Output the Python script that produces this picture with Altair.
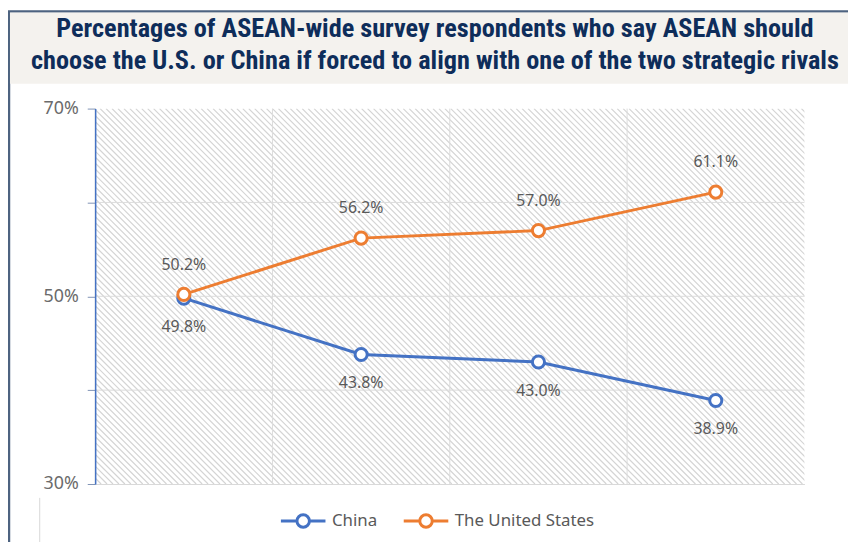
import altair as alt
import pandas as pd

# ---- data ----
years = ["2020", "2021", "2022", "2023"]
series_names = ["China", "The United States"]
china = [49.8, 43.8, 43.0, 38.9]
us = [50.2, 56.2, 57.0, 61.1]
y_ticks = [30, 40, 50, 60, 70]
grid_y = [40, 50, 60]
title_lines = [
    "Percentages of ASEAN-wide survey respondents who say ASEAN should",
    "choose the U.S. or China if forced to align with one of the two strategic rivals",
]

rows = []
for name, vals in zip(series_names, [china, us]):
    for yr, v in zip(years, vals):
        rows.append({"year": yr, "series": name, "value": v, "label": f"{v:.1f}%"})
df = pd.DataFrame(rows)

W, H = 716, 379
BLUE = "#4472c4"
ORANGE = "#ed7d31"
TXT = "#595959"
HATCH_STEP = 6  # horizontal spacing of the diagonal background hatch (style)

x_scale = alt.Scale(type="band", domain=years, paddingInner=0, paddingOuter=0)
y_scale = alt.Scale(domain=[30, 70], nice=False, zero=False)
color_scale = alt.Scale(domain=series_names, range=[BLUE, ORANGE])

legend_symbol = (
    "M-1,0H-0.28M0.28,0H1"
    "M-0.28,0A0.28,0.28,0,1,0,0.28,0A0.28,0.28,0,1,0,-0.28,0Z"
)
legend = alt.Legend(
    title=None, orient="none", legendX=186, legendY=392, direction="horizontal",
    columns=2, symbolType=legend_symbol, symbolSize=2025, symbolStrokeWidth=3,
    labelFontSize=17, labelColor=TXT, labelFont="Noto Sans", columnPadding=20,
    labelOffset=5,
)

x_axis = alt.Axis(labels=False, ticks=False, domainColor="#d9d9d9",
                  domainWidth=1, grid=False, title=None, zindex=1)
y_axis = alt.Axis(values=y_ticks,
                  labelExpr="datum.value % 20 == 10 ? datum.value + '%' : ''",
                  domainColor=BLUE, domainWidth=1.5, tickColor="#7f93b5",
                  tickSize=8, labelFontSize=18, labelColor="#6b6b6b",
                  labelFont="Noto Sans", labelPadding=9, grid=False,
                  title=None, zindex=1)
X = alt.X("year:N", scale=x_scale, axis=x_axis)
Y = alt.Y("value:Q", scale=y_scale, axis=y_axis)
C = alt.Color("series:N", scale=color_scale, legend=legend)

one = alt.Data(values=[{}])

frame = alt.Chart(one).mark_rect(fillOpacity=0, stroke="#4d6380", strokeWidth=2.5).encode(
    x=alt.value(-87), x2=alt.value(790), y=alt.value(-98), y2=alt.value(470))
band = alt.Chart(one).mark_rect(fill="#f4f2ee").encode(
    x=alt.value(-86), x2=alt.value(790), y=alt.value(-97), y2=alt.value(-25))
side = alt.Chart(one).mark_rule(color="#d9d9d9", strokeWidth=1).encode(
    x=alt.value(-56), y=alt.value(393), y2=alt.value(440))

# diagonal hatch of the plot background (decoration, clipped to the plot)
hatch = alt.Chart(alt.sequence(0, (W + H) // HATCH_STEP + 2, as_="i")).transform_calculate(
    hx0=f"datum.i * {HATCH_STEP} - {H}", hx1=f"datum.i * {HATCH_STEP}"
).mark_rule(clip=True, color="#d4d4d4", strokeWidth=1.2).encode(
    x=alt.X("hx0:Q", scale=None, axis=None), x2="hx1:Q",
    y=alt.value(0), y2=alt.value("height"))

vgrid = alt.Chart(pd.DataFrame({"year": years})).mark_rule(
    color="#dcdcdc", strokeWidth=1).encode(
    x=alt.X("year:N", bandPosition=0, scale=x_scale, axis=x_axis))
hgrid = alt.Chart(pd.DataFrame({"value": grid_y})).mark_rule(
    color="#dcdcdc", strokeWidth=1).encode(y=alt.Y("value:Q", scale=y_scale, axis=y_axis))

lines = alt.Chart(df).mark_line(strokeWidth=3).encode(x=X, y=Y, color=C)
points = alt.Chart(df).mark_point(
    shape="circle", size=150, filled=False, fill="white", strokeWidth=3, opacity=1
).encode(x=X, y=Y, color=C)

lab_us = alt.Chart(df).transform_filter("datum.series == 'The United States'").mark_text(
    dy=-30, fontSize=16, color=TXT, font="Noto Sans").encode(x=X, y=Y, text="label:N")
lab_cn = alt.Chart(df).transform_filter("datum.series == 'China'").mark_text(
    dy=29, fontSize=16, color=TXT, font="Noto Sans").encode(x=X, y=Y, text="label:N")

chart = alt.layer(
    frame, band, side, hatch, vgrid, hgrid, lines, points, lab_us, lab_cn
).properties(
    width=W, height=H,
    title=alt.Title(
        text=title_lines, fontSize=26.5,
        font="Liberation Sans Narrow, Roboto Condensed, DejaVu Sans Condensed, sans-serif",
        fontWeight="bold", color="#0e2d5a", lineHeight=33, anchor="middle",
        frame="group", dx=-15, offset=0, dy=65,
    ),
    autosize=alt.AutoSizeParams(type="none"),
    padding={"left": 88, "top": 99, "right": 44, "bottom": 56},
    background="white",
).configure_view(stroke=None)

chart.save("out.html", embed_options={"renderer": "svg", "actions": False})
